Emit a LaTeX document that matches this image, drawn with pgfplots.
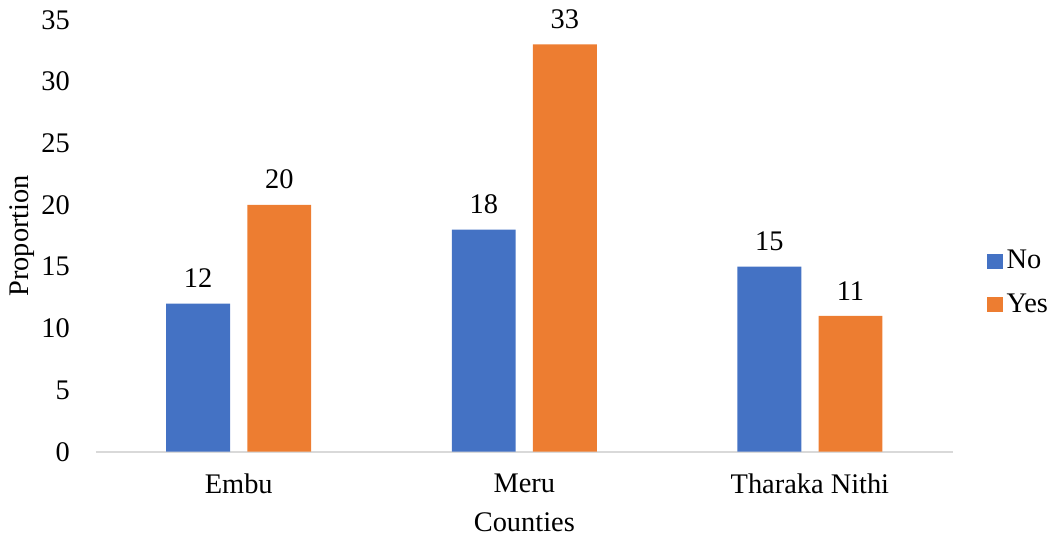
\documentclass[border=0pt]{standalone}
\usepackage{pgfplots}
\pgfplotsset{compat=1.18}
\usepackage{fontspec}
\setmainfont{Liberation Serif}
\definecolor{cblue}{HTML}{4472C4}
\definecolor{corange}{HTML}{ED7D31}
\definecolor{cgrid}{HTML}{D9D9D9}
\begin{document}
\fontsize{14}{16}\selectfont
\begin{tikzpicture}
\begin{axis}[
  scale only axis,
  width=422.5pt, height=213pt,
  ybar, bar width=31.5pt,
  xmin=-0.5, xmax=2.5, ymin=0, ymax=35,
  xtick={0,1,2}, xticklabels={Embu,Meru,Tharaka Nithi},
  ytick={0,5,...,35},
  axis line style={draw=none},
  major tick length=0pt,
  tick label style={font=\fontsize{14}{16}\selectfont},
  /pgf/number format/assume math mode=true,
  yticklabel style={xshift=-8pt},
  xticklabel style={yshift=-6pt},
  xlabel={Counties}, ylabel={Proportion},
  label style={font=\fontsize{14}{16}\selectfont},
  xlabel style={yshift=0pt},
  ylabel style={yshift=-6pt},
  extra y ticks={0}, extra y tick labels={},
  extra y tick style={grid=major, major grid style={draw=cgrid, line width=1pt}},
  nodes near coords,
  every node near coord/.append style={font=\fontsize{14}{16}\selectfont, yshift=3pt},
  legend style={draw=none, at={(1.04,0.39)}, anchor=west, font=\fontsize{14}{16}\selectfont,
    row sep=6pt, inner xsep=0pt, cells={anchor=west}},
  legend cell align=left,
  legend image code/.code={\fill[#1] (0pt,-3.75pt) rectangle (7.5pt,3.75pt);},
]
\addplot[fill=cblue, draw=none, bar shift=-20pt] coordinates {(0,12) (1,18) (2,15)};
\addplot[fill=corange, draw=none, bar shift=20pt] coordinates {(0,20) (1,33) (2,11)};
\legend{No,Yes}
\end{axis}
\end{tikzpicture}
\end{document}
